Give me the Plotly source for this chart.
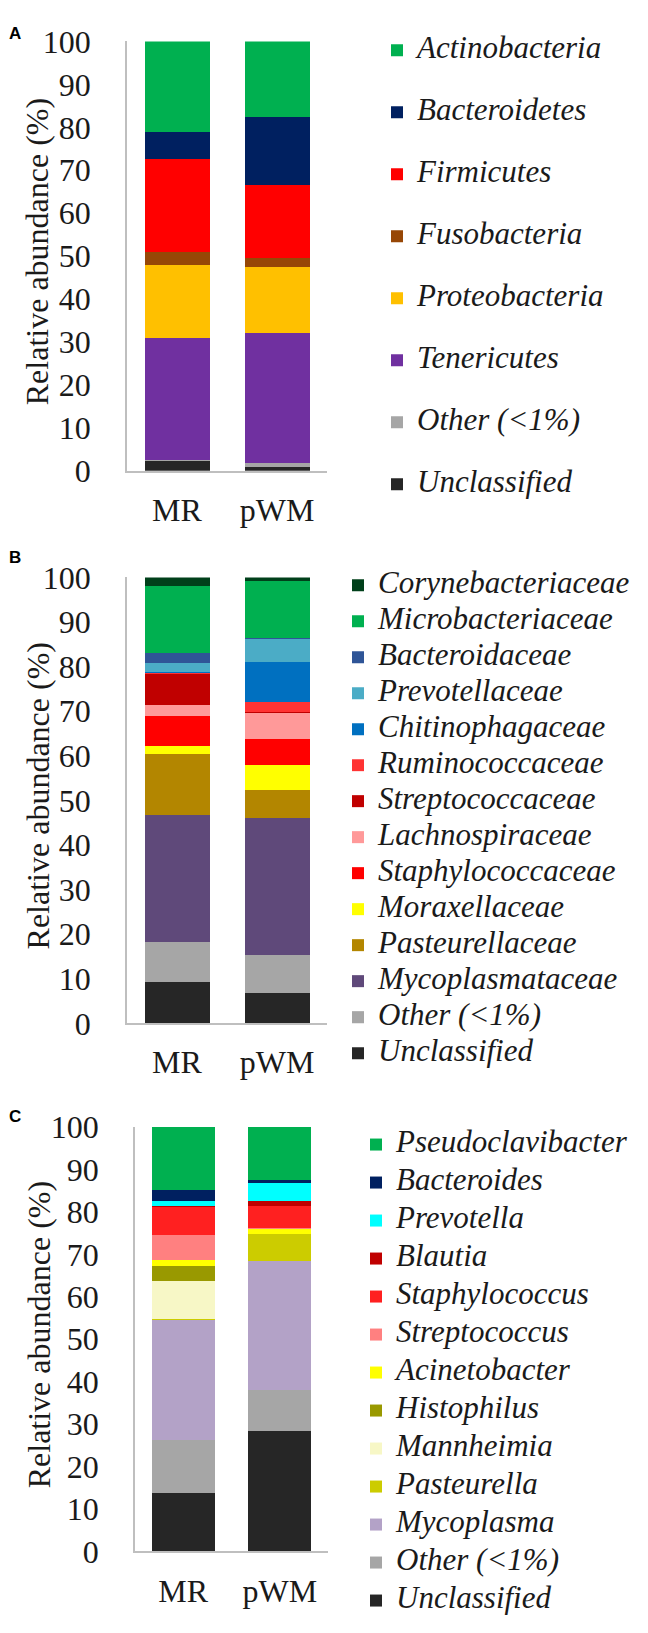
import plotly.graph_objects as go

W, H = 648, 1633
samples = ["MR", "pWM"]

# ---------- Panel A: phylum ----------
phyla = ["Unclassified", "Other (<1%)", "Tenericutes", "Proteobacteria",
         "Fusobacteria", "Firmicutes", "Bacteroidetes", "Actinobacteria"]
phyla_mr = [2.2, 0.4, 28.4, 17.0, 3.0, 21.7, 6.2, 21.1]
phyla_pwm = [1.0, 0.7, 30.4, 15.3, 2.1, 17.1, 15.9, 17.5]
phyla_colors = ["#262626", "#A6A6A6", "#7030A0", "#FFC000",
                "#974706", "#FF0000", "#002060", "#00B050"]

# ---------- Panel B: family ----------
families = ["Unclassified", "Other (<1%)", "Mycoplasmataceae", "Pasteurellaceae",
            "Moraxellaceae", "Staphylococcaceae", "Lachnospiraceae", "Streptococcaceae",
            "Ruminococcaceae", "Chitinophagaceae", "Prevotellaceae", "Bacteroidaceae",
            "Microbacteriaceae", "Corynebacteriaceae"]
families_mr = [9.2, 9.1, 28.5, 13.7, 1.6, 6.8, 2.4, 7.1, 0.2, 0.2, 1.9, 2.4, 14.9, 2.0]
families_pwm = [6.7, 8.6, 30.7, 6.3, 5.6, 5.9, 5.9, 0.1, 2.3, 8.9, 5.1, 0.2, 12.8, 0.9]
families_colors = ["#262626", "#A6A6A6", "#5F497A", "#B38600",
                   "#FFFF00", "#FF0000", "#FF9999", "#C00000",
                   "#FF3333", "#0070C0", "#4BACC6", "#2F5597",
                   "#00B050", "#00401A"]

# ---------- Panel C: genus ----------
genera = ["Unclassified", "Other (<1%)", "Mycoplasma", "Pasteurella", "Mannheimia",
          "Histophilus", "Acinetobacter", "Streptococcus", "Staphylococcus", "Blautia",
          "Prevotella", "Bacteroides", "Pseudoclavibacter"]
genera_mr = [13.7, 12.6, 28.4, 0.1, 9.0, 3.4, 1.4, 5.9, 6.8, 0.2, 1.1, 2.5, 14.9]
genera_pwm = [28.3, 9.8, 30.3, 6.3, 0.0, 0.0, 1.3, 0.2, 5.1, 1.2, 4.4, 0.5, 12.6]
genera_colors = ["#262626", "#A6A6A6", "#B3A2C7", "#CCCC00", "#F7F7C6",
                 "#999900", "#FFFF00", "#FF8080", "#FF2020", "#C00000",
                 "#00FFFF", "#002060", "#00B050"]

y_ticks = list(range(0, 101, 10))
panel_labels = ["A", "B", "C"]
y_title = "Relative abundance (%)"

SERIF = "Liberation Serif"
TXT = "#1a1a1a"
AXC = "#BFBFBF"

fig = go.Figure()


def add_panel(names, mr, pwm, colors, xa, ya, leg):
    k = len(names)
    for i, (n, a, b, c) in enumerate(zip(names, mr, pwm, colors)):
        fig.add_trace(go.Bar(
            x=samples, y=[a, b],
            name=f"<span style='font-size:31px'><i>{n}</i></span>",
            marker=dict(color=c, line=dict(width=0)),
            xaxis=xa, yaxis=ya, legend=leg, legendgroup=f"{leg}_{n}",
            legendrank=k - i,
            hovertemplate=n + ": %{y}%<extra>%{x}</extra>",
        ))


add_panel(phyla, phyla_mr, phyla_pwm, phyla_colors, "x", "y", "legend")
add_panel(families, families_mr, families_pwm, families_colors, "x2", "y2", "legend2")
add_panel(genera, genera_mr, genera_pwm, genera_colors, "x3", "y3", "legend3")


def px_x(v):
    return v / W


def px_y(v):
    return 1 - v / H


panels = [
    # x0, x1 (px), y_top(100), y_bottom(0) (px)
    (127, 327, 24, 463),
    (127, 327, 572, 1028),
    (135, 328, 1134, 1568),
]

ax_common_x = dict(showline=True, linecolor=AXC, linewidth=1.5,
                   ticks="outside", ticklen=10, tickcolor="rgba(0,0,0,0)",
                   showgrid=False, zeroline=False,
                   tickfont=dict(family=SERIF, size=32, color=TXT))
ax_common_y = dict(showline=True, linecolor=AXC, linewidth=1.5,
                   ticks="outside", ticklen=28, tickcolor="rgba(0,0,0,0)",
                   showgrid=False, zeroline=False, range=[0, 100],
                   tickvals=y_ticks,
                   tickfont=dict(family=SERIF, size=32, color=TXT))

layout = dict(barmode="stack", bargap=0.35, width=W, height=H,
              margin=dict(l=0, r=0, t=0, b=0),
              paper_bgcolor="white", plot_bgcolor="white", showlegend=True)

for i, (x0, x1, yt, yb) in enumerate(panels):
    sx = "" if i == 0 else str(i + 1)
    layout["xaxis" + sx] = dict(domain=[px_x(x0), px_x(x1)], anchor="y" + sx, **ax_common_x)
    layout["yaxis" + sx] = dict(domain=[px_y(yb), px_y(yt)], anchor="x" + sx, **ax_common_y)

leg_common = dict(xanchor="left", yanchor="top", bgcolor="rgba(0,0,0,0)",
                  traceorder="grouped", itemwidth=30,
                  font=dict(family=SERIF, size=20, color=TXT))
# legend positions: (left px, top px, gap)
legs = [(377, 13, 33), (338, 560, 7), (356, 1132, 9)]
for i, (lx, ly, gap) in enumerate(legs):
    key = "legend" if i == 0 else f"legend{i + 1}"
    layout[key] = dict(x=px_x(lx), y=px_y(ly), tracegroupgap=gap, **leg_common)

anns = []
for lab, yy in zip(panel_labels, [16, 552, 1123]):
    anns.append(dict(text=f"<b>{lab}</b>", x=px_x(15), y=px_y(yy), xref="paper", yref="paper",
                     xanchor="center", yanchor="middle", showarrow=False,
                     font=dict(family="Liberation Sans", size=17, color="black")))
for (x0, x1, yt, yb), tx in zip(panels, [37, 38, 39]):
    anns.append(dict(text=y_title, textangle=-90, x=px_x(tx), y=px_y((yt + yb) / 2 - 4),
                     xref="paper", yref="paper", xanchor="center", yanchor="middle",
                     showarrow=False, font=dict(family=SERIF, size=32, color=TXT)))
layout["annotations"] = anns

fig.update_layout(**layout)

fig.write_html("out.html", config={"displayModeBar": False},
               post_script="document.body.style.margin='0';")
